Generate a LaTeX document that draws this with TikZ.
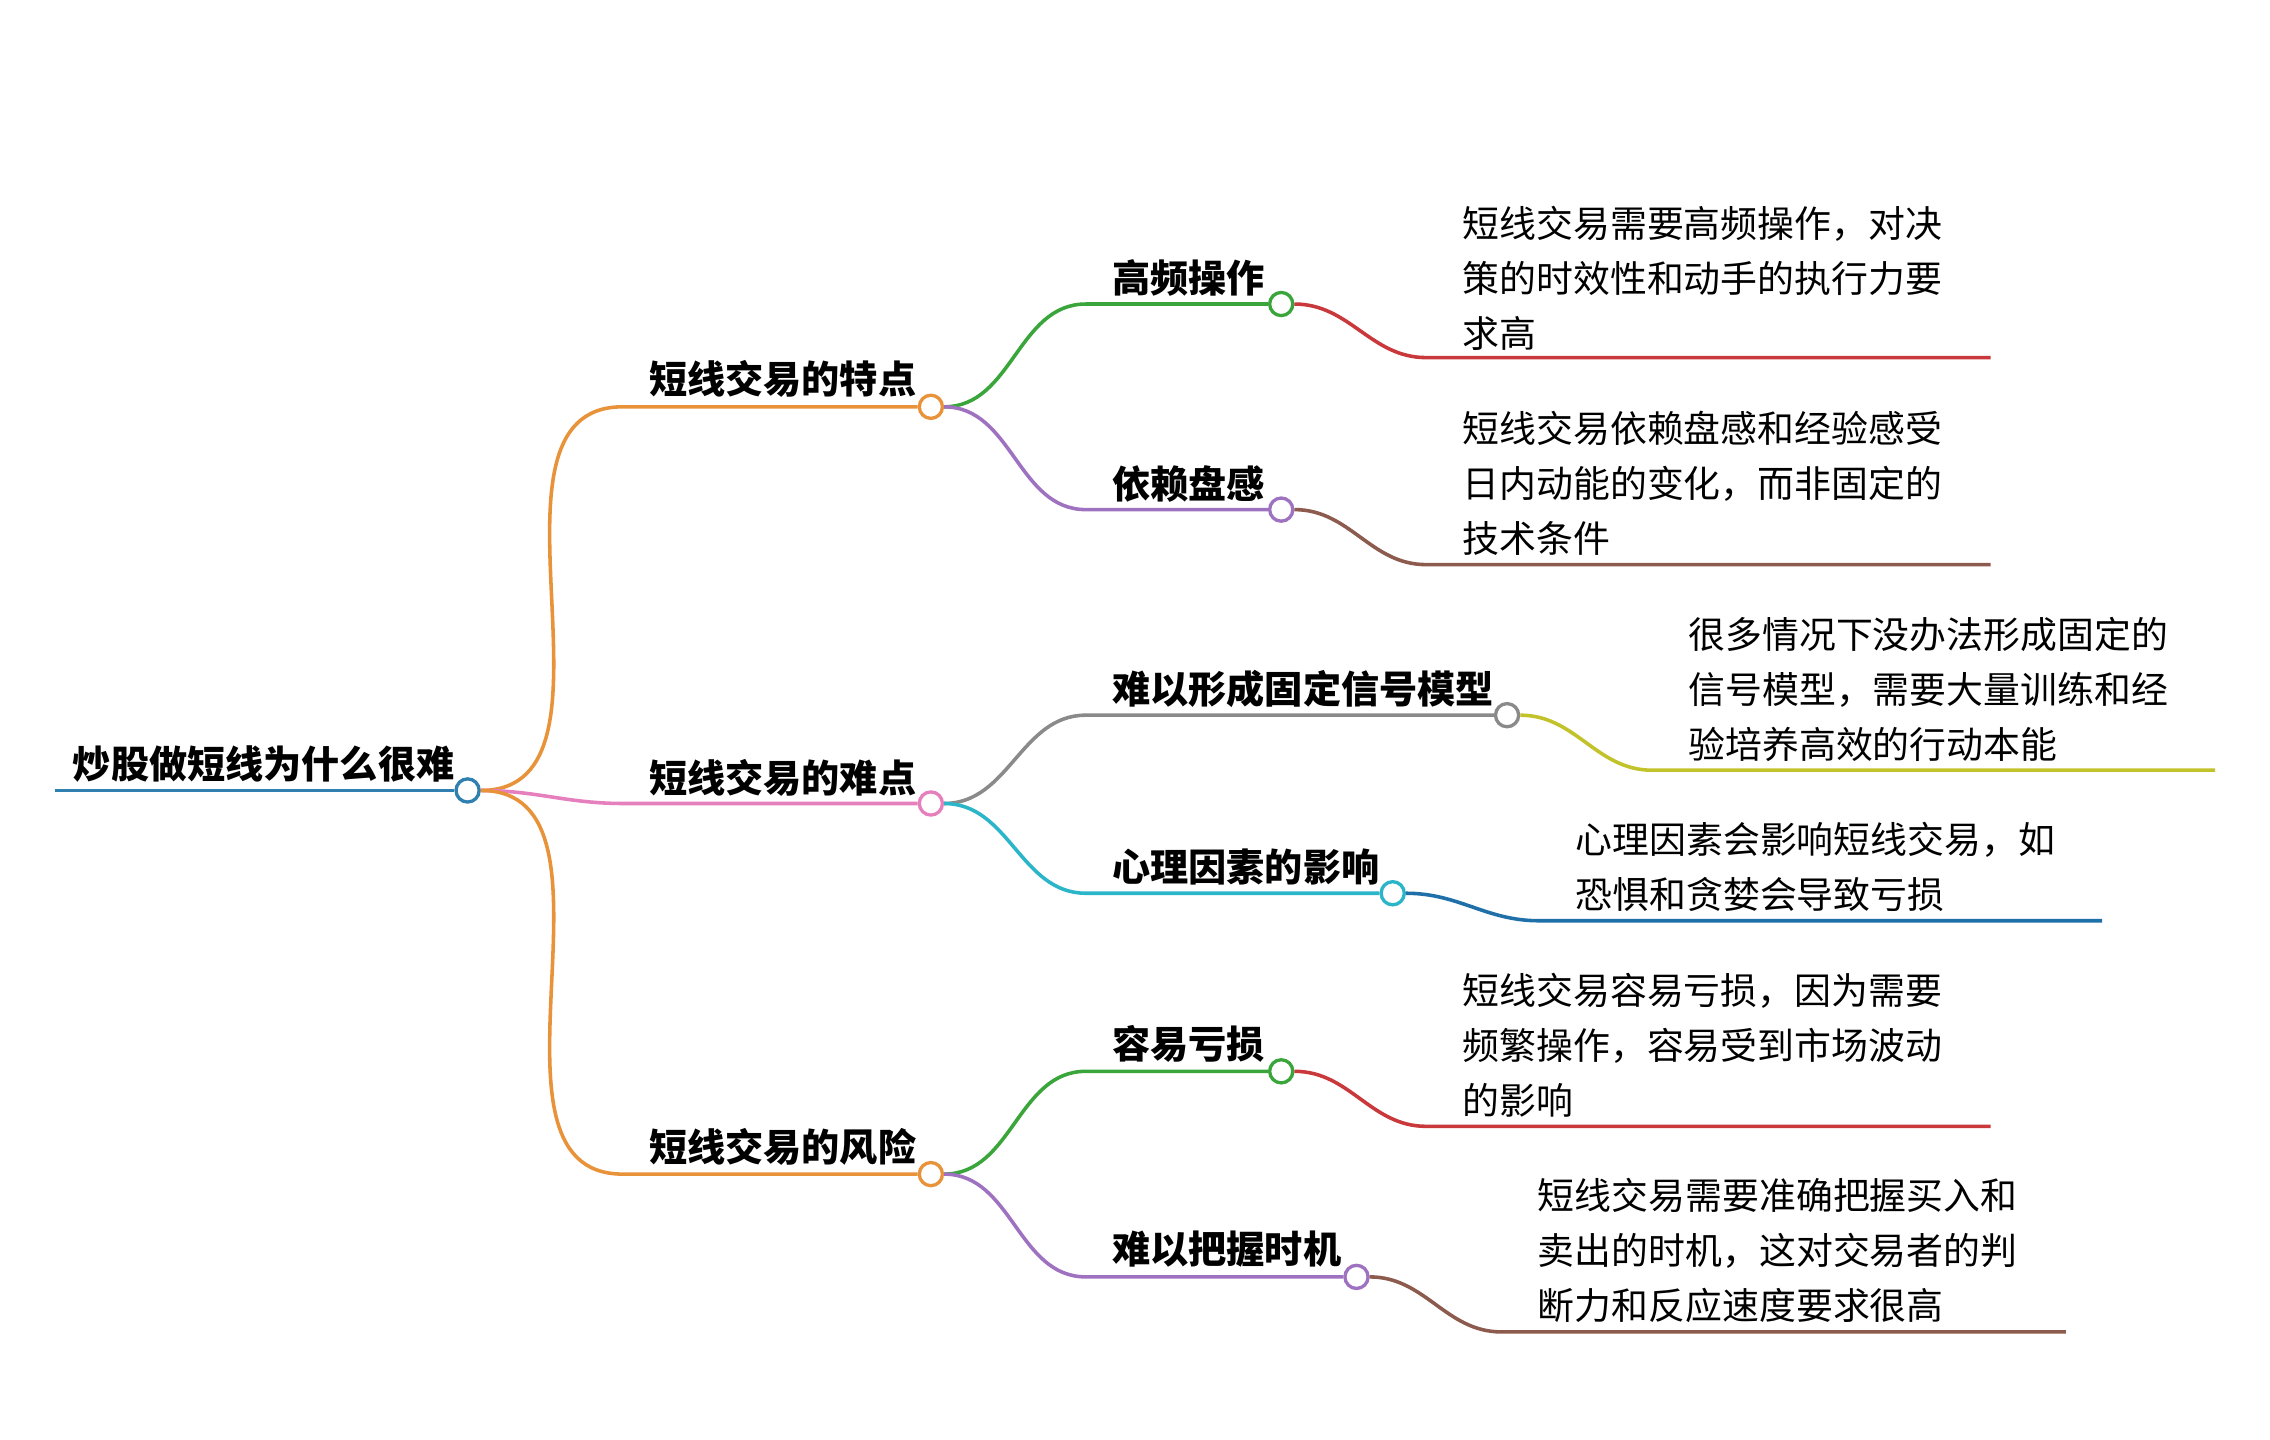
\documentclass[tikz,border=0pt]{standalone}
\usepackage{fontspec}
\setmainfont{Noto Sans CJK SC}
\newfontfamily\cjkbold[BoldFont=*]{Noto Sans CJK SC Bold}
\usetikzlibrary{positioning}
\definecolor{cRoot}{HTML}{2F7FB0}
\definecolor{cOrange}{HTML}{E8923A}
\definecolor{cPink}{HTML}{E67FBD}
\definecolor{cGreen}{HTML}{3AA53A}
\definecolor{cPurple}{HTML}{9E72C0}
\definecolor{cGray}{HTML}{8A8A8A}
\definecolor{cCyan}{HTML}{2BB5C9}
\definecolor{cRed}{HTML}{C9393B}
\definecolor{cBrown}{HTML}{8D5A4E}
\definecolor{cOlive}{HTML}{C2C22A}
\definecolor{cBlue}{HTML}{1F6FA8}
\tikzset{
  knob/.style={circle,draw=#1,fill=white,line width=1.3pt,minimum size=0.32cm,inner sep=0},
  branch/.style={line width=1.4pt,draw=#1},
  topic/.style={anchor=west,inner sep=0,font={\fontsize{15}{18}\selectfont\bfseries}},
  leaf/.style={anchor=west,inner sep=0,align=left,font={\fontsize{14.5}{21.6}\selectfont}}
}
\begin{document}
\begin{tikzpicture}[x=0.02cm,y=-0.02cm]
\useasboundingbox[fill=white] (0,0) rectangle (1568,994);
% root
\node[topic] (root) at (50,528) {炒股做短线为什么很难};
\coordinate (rootend) at (38,546);
\node[knob=cRoot] (k0) at (323,546) {};
\draw[branch=cRoot] (rootend) -- (k0);
% level 1
\node[topic] (t1) at (448,262) {短线交易的特点};
\node[topic] (t2) at (448,537) {短线交易的难点};
\node[topic] (t3) at (448,792) {短线交易的风险};
\node[knob=cOrange] (k1) at (643,281) {};
\node[knob=cPink] (k2) at (643,555) {};
\node[knob=cOrange] (k3) at (643,811) {};
\coordinate (s1) at (430,281);
\coordinate (s2) at (430,555);
\coordinate (s3) at (430,811);
\draw[branch=cOrange] (k0) to[out=0,in=180] (s1) -- (k1);
\draw[branch=cPink] (k0) to[out=0,in=180] (s2) -- (k2);
\draw[branch=cOrange] (k0) to[out=0,in=180] (s3) -- (k3);
% level 2
\node[topic] (u1) at (768,192) {高频操作};
\node[topic] (u2) at (768,334) {依赖盘感};
\node[topic] (u3) at (768,476) {难以形成固定信号模型};
\node[topic] (u4) at (768,599) {心理因素的影响};
\node[topic] (u5) at (768,721) {容易亏损};
\node[topic] (u6) at (768,863) {难以把握时机};
\node[knob=cGreen] (m1) at (885,210) {};
\node[knob=cPurple] (m2) at (885,352) {};
\node[knob=cGray] (m3) at (1041,494) {};
\node[knob=cCyan] (m4) at (962,617) {};
\node[knob=cGreen] (m5) at (885,740) {};
\node[knob=cPurple] (m6) at (937,882) {};
\coordinate (v1) at (750,210);
\coordinate (v2) at (750,352);
\coordinate (v3) at (750,494);
\coordinate (v4) at (750,617);
\coordinate (v5) at (750,740);
\coordinate (v6) at (750,882);
\draw[branch=cGreen] (k1) to[out=0,in=180] (v1) -- (m1);
\draw[branch=cPurple] (k1) to[out=0,in=180] (v2) -- (m2);
\draw[branch=cGray] (k2) to[out=0,in=180] (v3) -- (m3);
\draw[branch=cCyan] (k2) to[out=0,in=180] (v4) -- (m4);
\draw[branch=cGreen] (k3) to[out=0,in=180] (v5) -- (m5);
\draw[branch=cPurple] (k3) to[out=0,in=180] (v6) -- (m6);
% leaves
\node[leaf] (l1) at (1010,192) {短线交易需要高频操作，对决\\策的时效性和动手的执行力要\\求高};
\node[leaf] (l2) at (1010,334) {短线交易依赖盘感和经验感受\\日内动能的变化，而非固定的\\技术条件};
\node[leaf] (l3) at (1166,476) {很多情况下没办法形成固定的\\信号模型，需要大量训练和经\\验培养高效的行动本能};
\node[leaf] (l4) at (1088,599) {心理因素会影响短线交易，如\\恐惧和贪婪会导致亏损};
\node[leaf] (l5) at (1010,722) {短线交易容易亏损，因为需要\\频繁操作，容易受到市场波动\\的影响};
\node[leaf] (l6) at (1062,864) {短线交易需要准确把握买入和\\卖出的时机，这对交易者的判\\断力和反应速度要求很高};
\coordinate (w1a) at (985,247);  \coordinate (w1b) at (1375,247);
\coordinate (w2a) at (985,390);  \coordinate (w2b) at (1375,390);
\coordinate (w3a) at (1141,532); \coordinate (w3b) at (1530,532);
\coordinate (w4a) at (1063,636); \coordinate (w4b) at (1452,636);
\coordinate (w5a) at (985,778);  \coordinate (w5b) at (1375,778);
\coordinate (w6a) at (1037,920); \coordinate (w6b) at (1427,920);
\draw[branch=cRed] (m1) to[out=0,in=180] (w1a) -- (w1b);
\draw[branch=cBrown] (m2) to[out=0,in=180] (w2a) -- (w2b);
\draw[branch=cOlive] (m3) to[out=0,in=180] (w3a) -- (w3b);
\draw[branch=cBlue] (m4) to[out=0,in=180] (w4a) -- (w4b);
\draw[branch=cRed] (m5) to[out=0,in=180] (w5a) -- (w5b);
\draw[branch=cBrown] (m6) to[out=0,in=180] (w6a) -- (w6b);
\end{tikzpicture}
\end{document}
